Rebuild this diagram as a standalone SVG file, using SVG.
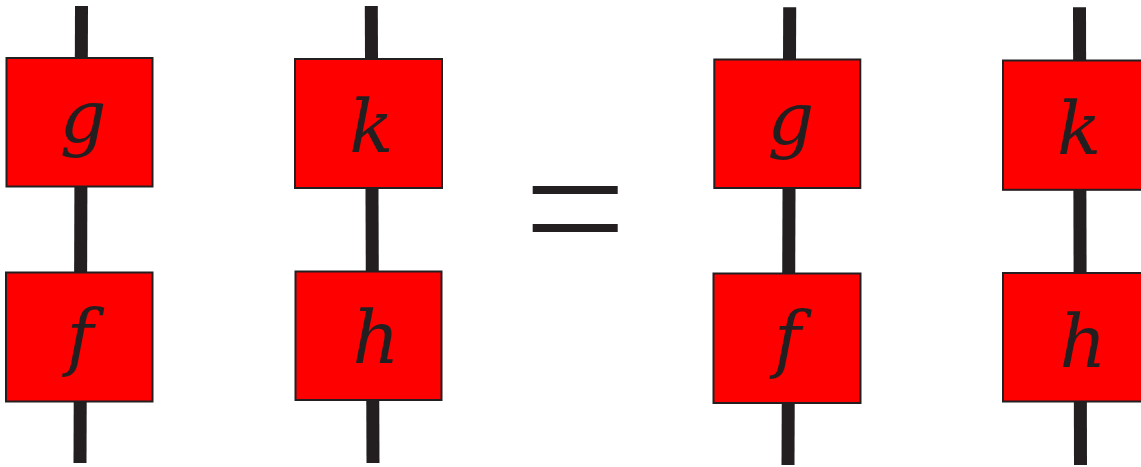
<svg xmlns="http://www.w3.org/2000/svg" width="1141" height="467" viewBox="0 0 1141 467">
<style>
.wire{stroke:#231f20;stroke-width:13;fill:none}
.box rect{fill:#ff0000;stroke:#231f20;stroke-width:2}
.lbl{font-family:"DejaVu Serif","Liberation Serif",serif;font-style:italic;font-size:73px;fill:#231f20;text-anchor:middle}
.eq{fill:#231f20}
</style>
<rect width="1141" height="467" fill="#ffffff"/>
<g id="connectors">
<line class="wire" x1="81.5" y1="6" x2="80" y2="463"/>
<line class="wire" x1="371.3" y1="6" x2="373" y2="463"/>
<line class="wire" x1="789.7" y1="7.3" x2="788" y2="465"/>
<line class="wire" x1="1079.5" y1="7.3" x2="1080.5" y2="465"/>
</g>
<g id="node-g1" class="box"><rect x="6.5" y="58" width="146" height="128.5"/><text class="lbl" x="83" y="142">g</text></g>
<g id="node-f1" class="box"><rect x="6" y="272.5" width="146.5" height="129"/><text class="lbl" x="80" y="362">f</text></g>
<g id="node-k1" class="box"><rect x="295" y="59" width="147" height="129"/><text class="lbl" x="371.3" y="151.7">k</text></g>
<g id="node-h1" class="box"><rect x="295.5" y="271.5" width="146" height="128.5"/><text class="lbl" x="376" y="363">h</text></g>
<g id="equals"><rect class="eq" x="532.7" y="186" width="85" height="8"/><rect class="eq" x="532.7" y="224" width="85" height="8"/></g>
<g id="node-g2" class="box"><rect x="714.3" y="59.5" width="146" height="128.5"/><text class="lbl" x="790.8" y="144">g</text></g>
<g id="node-f2" class="box"><rect x="713.5" y="273.5" width="147" height="129.5"/><text class="lbl" x="787.5" y="364">f</text></g>
<g id="node-k2" class="box"><rect x="1003" y="60.5" width="147" height="129.3"/><text class="lbl" x="1079" y="154">k</text></g>
<g id="node-h2" class="box"><rect x="1003" y="273" width="147" height="128.5"/><text class="lbl" x="1083" y="366.7">h</text></g>
</svg>
